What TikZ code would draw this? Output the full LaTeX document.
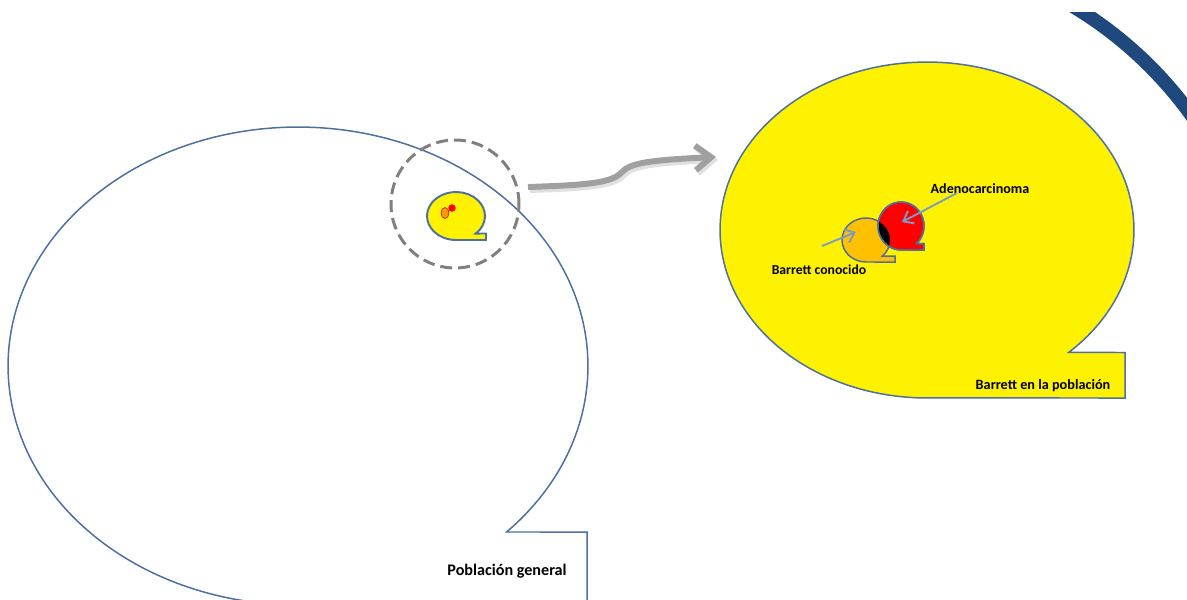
\documentclass[tikz,border=0pt]{standalone}
\usepackage{fontspec}
\setmainfont{Carlito}
\usetikzlibrary{arrows.meta}
\definecolor{outl}{RGB}{79,111,160}
\definecolor{arrowblue}{RGB}{125,155,195}
\definecolor{darkblue}{RGB}{31,73,125}
\definecolor{orangefill}{RGB}{255,192,0}
\definecolor{dashgray}{RGB}{128,128,128}
\definecolor{bigarrow}{RGB}{160,160,160}
\tikzset{
  shapeline/.style={draw=outl, line width=0.85pt},
  lbl/.style={text=black, inner sep=0pt},
  pointer/.style={draw=arrowblue, line width=1.1pt, -{Straight Barb[length=5pt,width=8pt]}},
}
\begin{document}
\begin{tikzpicture}[x=0.02cm,y=0.02cm]
\useasboundingbox (0,0) rectangle (1187,-599);
\clip (0,0) rectangle (1187,-599);
\fill[white] (0,0) rectangle (1187,-599);
% big white callout (Poblacion general)
\draw[shapeline, fill=white] (298,-366) ++(-44:5.8cm and 4.78cm) coordinate (ws)
  arc[start angle=-44, end angle=270, x radius=5.8cm, y radius=4.78cm]
  -- (587,-605) -- (587,-532) -- cycle;
% dashed zoom circle
\draw[dashgray, line width=1.7pt, dash pattern=on 6.8pt off 3.4pt] (455,-204) circle[radius=1.28cm];
% small yellow callout
\draw[shapeline, line width=1.1pt, fill=yellow] (456,-216) ++(-47:0.58cm and 0.48cm)
  arc[start angle=-47, end angle=270, x radius=0.58cm, y radius=0.48cm]
  -- (486,-240) -- (486,-233.5) -- cycle;
\draw[red!70!black, line width=0.3pt, fill=orange!80!yellow] (445,-213) ellipse[x radius=0.08cm, y radius=0.11cm];
\fill[red] (452,-208) circle[radius=0.075cm];
% grey curved arrow with shadow
\draw[black!12, line width=3.4pt, -{Straight Barb[length=9pt,width=14pt]}]
  (530,-190) .. controls (590,-188) and (614,-186) .. (624,-175) .. controls (632,-166) and (652,-163) .. (718,-160);
\draw[bigarrow, line width=3.4pt, -{Straight Barb[length=9pt,width=14pt]}]
  (528,-187) .. controls (588,-185) and (612,-183) .. (622,-172) .. controls (630,-163) and (650,-160) .. (716,-157);
% big yellow callout
\draw[shapeline, fill=yellow] (927,-230) ++(-46.8:4.14cm and 3.36cm)
  arc[start angle=-46.8, end angle=270, x radius=4.14cm, y radius=3.36cm]
  -- (1125,-398) -- (1125,-352.5) -- cycle;
% orange and red callouts
\def\orangepath{(866,-240) ++(-47:0.48cm and 0.44cm)
  arc[start angle=-47, end angle=270, x radius=0.48cm, y radius=0.44cm]
  -- (895,-262) -- (895,-256.1) -- cycle}
\def\redpath{(901,-226) ++(-47:0.46cm and 0.48cm)
  arc[start angle=-47, end angle=270, x radius=0.46cm, y radius=0.48cm]
  -- (924,-250) -- (924,-243.6) -- cycle}
\draw[shapeline, fill=orangefill] \orangepath;
\draw[shapeline, fill=red] \redpath;
\begin{scope}
  \clip \orangepath;
  \fill[black] \redpath;
\end{scope}
\draw[shapeline] \redpath;
% labels
\node[lbl, font=\bfseries\fontsize{8}{9}\selectfont] (adeno) at (980,-189) {Adenocarcinoma};
\node[lbl, font=\bfseries\fontsize{7.8}{9}\selectfont] (bc) at (819,-270) {Barrett conocido};
\node[lbl, font=\bfseries\fontsize{8.1}{9}\selectfont] (bep) at (1043,-386) {Barrett en la población};
\node[lbl, font=\bfseries\fontsize{9.2}{10}\selectfont] (pg) at (507,-571) {Población general};
% pointers
\coordinate (p1s) at (822,-246);
\coordinate (p1e) at (856,-232);
\coordinate (p2s) at (957,-193);
\coordinate (p2e) at (902,-222);
\draw[pointer] (p1s) -- (p1e);
\draw[pointer] (p2s) -- (p2e);
% dark blue arc top right
\begin{scope}
  \clip (0,-12) rectangle (1187,-599);
  \draw[darkblue, line width=7.9pt] (867,-349) ++(64:8cm) arc[start angle=64, end angle=28, radius=8cm];
\end{scope}
\end{tikzpicture}
\end{document}
